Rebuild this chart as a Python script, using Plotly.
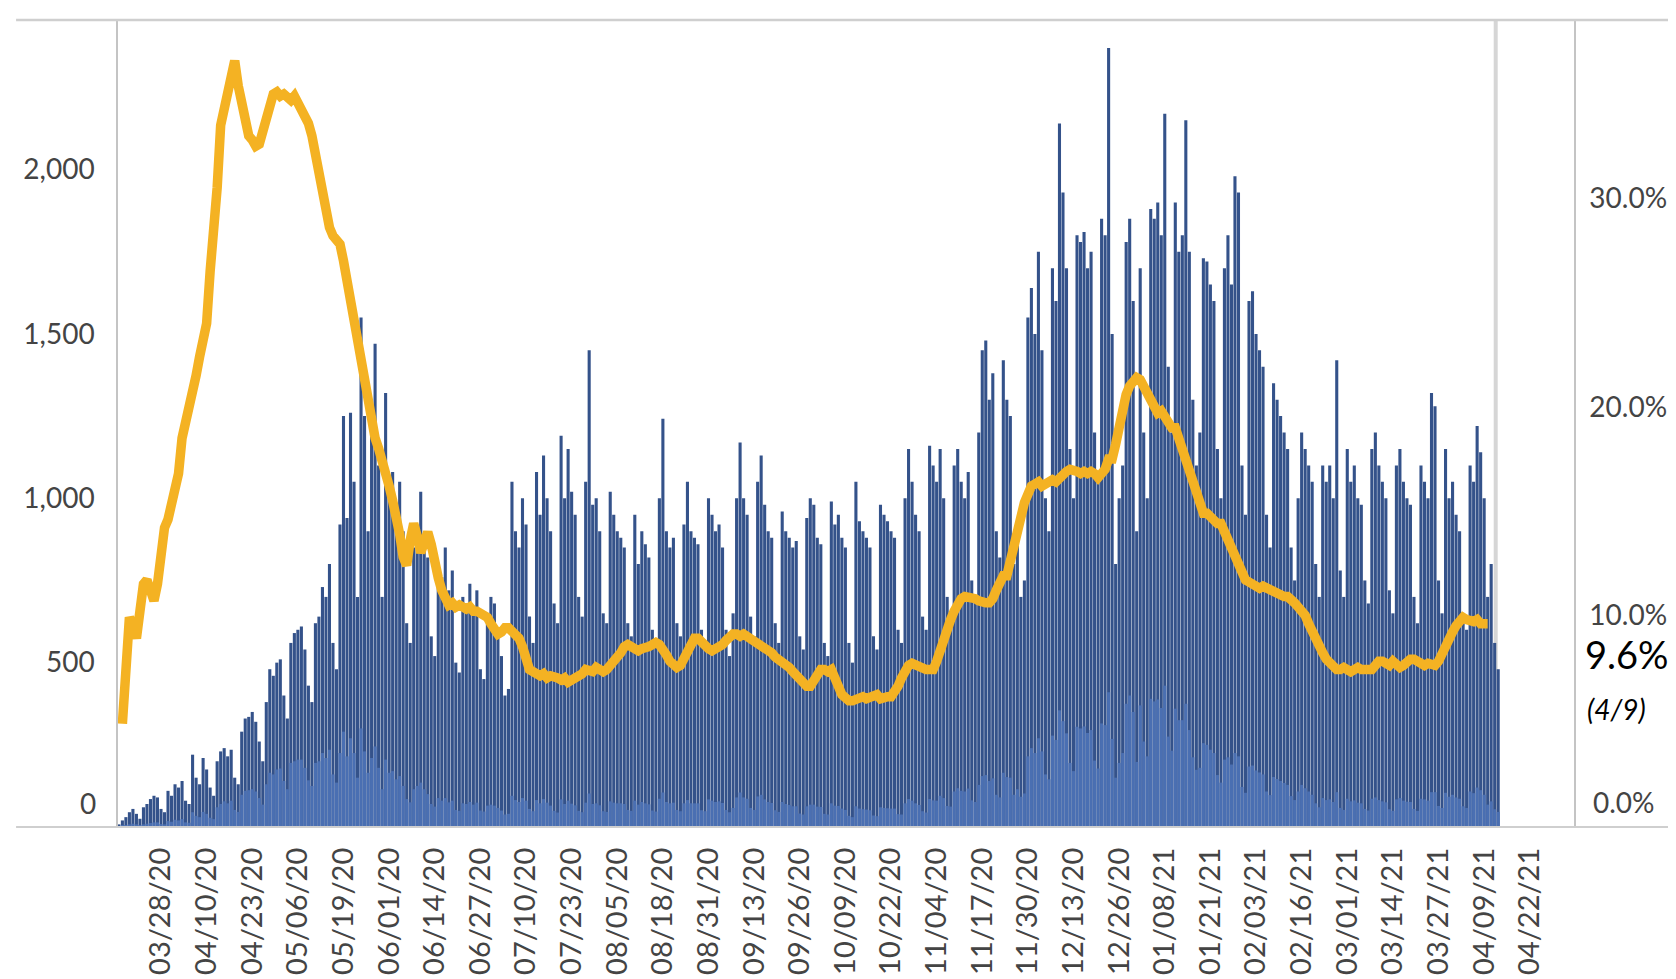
import plotly.graph_objects as go
import pandas as pd

# ---------------- data ----------------
bar_start = "2020-03-16"   # first daily bar (a Monday)
total_tests = [
    8, 20, 30, 45, 55, 40, 25,
    60, 70, 85, 95, 90, 55, 45,
    110, 95, 130, 120, 140, 80, 70,
    220, 150, 130, 210, 175, 120, 95,
    200, 230, 240, 215, 235, 150, 130,
    290, 330, 335, 350, 320, 260, 200,
    380, 480, 460, 500, 510, 400, 330,
    560, 590, 600, 610, 540, 430, 380,
    620, 640, 730, 700, 800, 560, 480,
    920, 1250, 940, 1260, 1050, 700, 1550,
    1250, 900, 1200, 1470, 1100, 700, 1320,
    1000, 1080, 950, 1050, 900, 620, 560,
    850, 900, 1020, 880, 820, 580, 520,
    800, 760, 850, 720, 780, 500, 470,
    700, 680, 740, 660, 720, 480, 450,
    650, 700, 680, 600, 520, 400, 420,
    1050, 900, 850, 1000, 920, 640, 560,
    1080, 950, 1130, 1000, 900, 680, 620,
    1190, 1000, 1150, 1020, 950, 700, 640,
    1050, 1450, 980, 1000, 900, 650, 620,
    1020, 950, 900, 880, 850, 620, 580,
    950, 800, 900, 860, 820, 600, 560,
    1000, 1242, 900, 850, 880, 620, 580,
    920, 1050, 900, 880, 860, 600, 560,
    1000, 950, 900, 920, 850, 600, 520,
    650, 1000, 1170, 1000, 950, 640, 580,
    1050, 1130, 980, 900, 880, 620, 560,
    960, 900, 880, 850, 870, 580, 540,
    940, 1000, 980, 880, 860, 560, 520,
    990, 920, 950, 880, 850, 560, 500,
    1050, 930, 900, 880, 850, 580, 540,
    980, 950, 930, 900, 880, 600, 560,
    1000, 1150, 1050, 950, 900, 640, 600,
    1160, 1100, 1050, 1150, 1000, 700, 650,
    1100, 1150, 1050, 1000, 1080, 750, 700,
    1200, 1450, 1480, 1300, 1380, 900, 820,
    1420, 1300, 1250, 800, 900, 700, 750,
    1550, 1640, 1500, 1750, 1450, 1000, 900,
    1700, 1600, 2140, 1930, 1700, 1150, 1000,
    1800, 1780, 1810, 1700, 1750, 1200, 1050,
    1850, 1800, 2370, 1500, 800, 1000, 1100,
    1780, 1850, 1600, 900, 1700, 1200, 1000,
    1880, 1850, 1900, 1800, 2170, 1400, 1200,
    1900, 1750, 1800, 2150, 1750, 1300, 1100,
    1200, 1730, 1720, 1650, 1600, 1150, 1000,
    1700, 1800, 1650, 1980, 1930, 1100, 950,
    1600, 1630, 1500, 1450, 1400, 950, 850,
    1350, 1300, 1250, 1200, 1150, 850, 750,
    1000, 1200, 1150, 1100, 1050, 800, 700,
    1100, 1050, 1100, 1000, 1420, 780, 700,
    1150, 1050, 1100, 1000, 980, 750, 680,
    1150, 1200, 1100, 1050, 1000, 720, 650,
    1100, 1150, 1050, 1000, 980, 700, 620,
    1100, 1050, 1000, 1320, 1280, 750, 650,
    1150, 1000, 1050, 950, 900, 650, 600,
    1100, 1050, 1220, 1140, 1000, 700, 800,
    560, 480,
]
positive_tests = [
    1, 4, 6, 8, 10, 8, 5,
    8, 10, 12, 14, 14, 9, 8,
    18, 16, 22, 20, 24, 14, 13,
    45, 34, 30, 46, 40, 28, 24,
    60, 70, 78, 72, 80, 52, 46,
    98, 110, 112, 115, 108, 88, 68,
    130, 165, 160, 175, 178, 140, 115,
    195, 200, 205, 205, 180, 142, 125,
    195, 200, 225, 210, 235, 160, 135,
    225, 290, 215, 270, 225, 150, 300,
    230, 165, 210, 245, 180, 115, 205,
    165, 170, 145, 155, 125, 85, 75,
    115, 125, 135, 115, 100, 70, 62,
    88, 80, 88, 75, 80, 52, 49,
    72, 70, 76, 68, 74, 50, 47,
    65, 68, 65, 58, 50, 38, 40,
    95, 82, 76, 88, 80, 55, 48,
    82, 72, 85, 74, 65, 49, 44,
    84, 70, 80, 71, 66, 49, 45,
    74, 102, 70, 72, 66, 48, 46,
    78, 74, 72, 72, 70, 52, 49,
    80, 68, 76, 72, 69, 50, 47,
    86, 105, 76, 72, 74, 52, 48,
    72, 82, 72, 72, 72, 51, 48,
    84, 80, 76, 78, 73, 52, 45,
    58, 90, 105, 90, 86, 58, 52,
    93, 98, 84, 76, 73, 51, 46,
    76, 70, 67, 63, 63, 41, 38,
    63, 68, 68, 62, 61, 40, 38,
    72, 65, 64, 56, 52, 34, 30,
    63, 56, 54, 53, 51, 35, 33,
    60, 58, 57, 56, 56, 39, 38,
    72, 85, 80, 72, 67, 48, 44,
    85, 81, 80, 95, 88, 64, 62,
    108, 118, 110, 108, 117, 81, 76,
    128, 155, 158, 140, 148, 98, 90,
    165, 152, 150, 98, 115, 92, 102,
    215, 240, 225, 270, 230, 160, 145,
    278, 265, 355, 322, 285, 195, 170,
    305, 300, 306, 286, 295, 202, 178,
    315, 310, 410, 268, 150, 195, 225,
    375, 400, 350, 198, 370, 260, 215,
    390, 382, 388, 362, 430, 275, 232,
    360, 325, 325, 375, 295, 212, 174,
    180, 255, 250, 235, 225, 158, 135,
    205, 212, 190, 225, 215, 122, 104,
    184, 187, 172, 166, 160, 108, 97,
    152, 146, 140, 134, 128, 94, 82,
    108, 128, 118, 108, 98, 72, 60,
    88, 82, 84, 76, 106, 58, 52,
    86, 78, 81, 74, 72, 55, 50,
    86, 90, 82, 78, 75, 54, 49,
    84, 88, 80, 77, 76, 55, 49,
    86, 84, 80, 106, 106, 64, 58,
    104, 92, 98, 90, 86, 63, 58,
    108, 103, 120, 112, 98, 68, 78,
    54, 46,
]
rate_start = "2020-03-17"   # first day of the positivity line
positivity_rate = [
    4.8, 7.5, 9.9, 9.5, 8.9, 10.2, 11.5, 11.7, 11.0, 10.7,
    11.5, 12.8, 14.2, 14.6, 15.2, 16.0, 16.8, 18.5, 19.2, 19.8,
    20.6, 21.5, 22.4, 23.2, 24.0, 26.5, 28.0, 30.5, 33.5, 34.2,
    35.0, 35.8, 36.6, 35.4, 34.4, 33.5, 33.0, 32.8, 32.5, 32.6,
    33.2, 33.6, 34.4, 35.0, 35.1, 34.9, 35.0, 34.8, 34.7, 34.9,
    34.6, 34.4, 34.0, 33.6, 33.0, 32.0, 31.0, 30.2, 29.3, 28.6,
    28.2, 28.0, 27.8, 27.0, 26.0, 25.2, 24.3, 23.4, 22.5, 21.3,
    20.2, 19.0, 18.5, 18.0, 17.5, 16.8, 16.2, 15.5, 14.8, 13.9,
    12.8, 12.4, 13.6, 14.4, 13.8, 13.0, 13.5, 14.0, 13.4, 12.4,
    11.8, 11.2, 10.7, 10.5, 10.6, 10.4, 10.5, 10.4, 10.3, 10.4,
    10.2, 10.2, 10.1, 10.0, 9.9, 9.6, 9.3, 9.1, 9.2, 9.4,
    9.4, 9.2, 9.0, 8.9, 8.5, 8.0, 7.4, 7.3, 7.2, 7.1,
    7.2, 7.0, 7.1, 7.1, 7.0, 6.9, 7.0, 6.8, 6.9, 6.9,
    7.1, 7.2, 7.4, 7.4, 7.3, 7.5, 7.4, 7.3, 7.4, 7.6,
    7.8, 7.9, 8.2, 8.5, 8.6, 8.5, 8.4, 8.3, 8.4, 8.4,
    8.5, 8.6, 8.7, 8.6, 8.4, 8.1, 7.8, 7.6, 7.5, 7.6,
    7.9, 8.3, 8.6, 8.9, 8.9, 8.7, 8.5, 8.4, 8.3, 8.4,
    8.4, 8.6, 8.8, 9.0, 9.1, 9.1, 9.0, 9.1, 9.0, 8.9,
    8.8, 8.7, 8.6, 8.5, 8.4, 8.2, 8.0, 7.9, 7.8, 7.6,
    7.5, 7.3, 7.1, 6.9, 6.7, 6.6, 6.6, 6.9, 7.2, 7.4,
    7.4, 7.3, 7.4, 7.1, 6.6, 6.2, 6.0, 5.9, 5.9, 6.0,
    6.0, 6.1, 6.0, 6.1, 6.1, 6.2, 6.0, 6.1, 6.1, 6.1,
    6.3, 6.6, 7.0, 7.4, 7.6, 7.7, 7.6, 7.5, 7.4, 7.4,
    7.4, 7.4, 7.8, 8.4, 9.0, 9.4, 9.8, 10.2, 10.6, 10.8,
    10.9, 10.9, 10.9, 10.8, 10.7, 10.6, 10.6, 10.6, 10.8, 11.2,
    11.6, 11.9, 11.9, 12.6, 13.4, 14.2, 14.9, 15.4, 15.8, 16.2,
    16.3, 16.4, 16.2, 16.3, 16.5, 16.5, 16.4, 16.6, 16.8, 16.9,
    17.0, 17.0, 16.9, 16.8, 16.9, 16.8, 16.9, 16.8, 16.6, 16.8,
    17.0, 17.5, 17.5, 18.2, 19.2, 20.0, 20.6, 21.0, 21.3, 21.4,
    21.3, 21.0, 20.7, 20.4, 20.0, 19.7, 19.8, 19.5, 19.3, 19.0,
    19.0, 18.5, 18.0, 17.4, 17.0, 16.4, 15.8, 15.3, 14.9, 14.9,
    14.7, 14.6, 14.4, 14.4, 14.0, 13.8, 13.4, 13.0, 12.5, 12.0,
    11.7, 11.6, 11.5, 11.4, 11.3, 11.4, 11.3, 11.2, 11.2, 11.1,
    11.0, 10.9, 10.9, 10.8, 10.6, 10.4, 10.2, 10.0, 9.6, 9.2,
    8.8, 8.5, 8.2, 7.9, 7.7, 7.5, 7.4, 7.4, 7.5, 7.4,
    7.3, 7.4, 7.5, 7.4, 7.4, 7.3, 7.4, 7.6, 7.8, 7.8,
    7.7, 7.6, 7.8, 7.6, 7.5, 7.6, 7.8, 7.9, 7.9, 7.8,
    7.7, 7.6, 7.7, 7.6, 7.6, 7.8, 8.2, 8.6, 8.9, 9.2,
    9.5, 9.8, 9.9, 9.8, 9.7, 9.7, 9.8, 9.6, 9.6, 9.6,
]

left_tick_values = [500, 1000, 1500, 2000]
left_tick_text = ["500", "1,000", "1,500", "2,000"]
right_tick_values = [10, 20, 30]
right_tick_text = ["10.0%", "20.0%", "30.0%"]
x_tick_first = "2020-03-28"
x_tick_step_days = 13
x_range = ["2020-03-15 18:00", "2021-05-04 14:24"]
left_range = [0, 2455]
right_range = [-0.15, 38.55]
today_marker = "2021-04-12 07:00"
latest_value_text = "9.6%"
latest_date_text = "(4/9)"

# ---------------- figure ----------------
bar_dates = pd.date_range(bar_start, periods=len(total_tests), freq="D")
rate_dates = pd.date_range(rate_start, periods=len(positivity_rate), freq="D")

FONT_FAMILY = "Lato, Liberation Sans, sans-serif"
TICK_FONT = dict(family=FONT_FAMILY, size=28, color="#444444")
AXIS_GRAY = "#c4c4c4"

fig = go.Figure()
fig.add_trace(go.Bar(x=bar_dates, y=total_tests, marker=dict(color="#34528a", line=dict(width=0)),
                     name="Tests", yaxis="y"))
fig.add_trace(go.Bar(x=bar_dates, y=positive_tests, marker=dict(color="#4a6fb2", line=dict(width=0)),
                     name="Positives", yaxis="y"))
fig.add_trace(go.Scatter(x=rate_dates, y=positivity_rate, yaxis="y2", mode="lines",
                         line=dict(color="#F4B223", width=9.5), name="Positivity"))

fig.update_layout(
    width=1676, height=979,
    margin=dict(l=110, r=110, t=12, b=147),
    paper_bgcolor="white", plot_bgcolor="white",
    barmode="overlay", bargap=0.12,
    showlegend=False,
    xaxis=dict(
        type="date", range=x_range,
        tickmode="linear", tick0=x_tick_first, dtick=x_tick_step_days * 86400000,
        tickformat="%m/%d/%y", tickangle=-90,
        tickfont=dict(family=FONT_FAMILY, size=29, color="#444444"),
        showgrid=False, showline=False, zeroline=False, ticks="",
        ticklabelstandoff=14,
    ),
    yaxis=dict(
        range=left_range, tickmode="array", tickvals=left_tick_values, ticktext=left_tick_text,
        tickfont=TICK_FONT, showgrid=False, zeroline=False,
        showline=True, linecolor=AXIS_GRAY, linewidth=1.5, ticks="",
        ticklabelstandoff=16,
    ),
    yaxis2=dict(
        overlaying="y", side="right", range=right_range,
        tickmode="array", tickvals=right_tick_values, ticktext=right_tick_text,
        tickfont=TICK_FONT, showgrid=False, zeroline=False,
        showline=True, linecolor=AXIS_GRAY, linewidth=1.5, ticks="",
        ticklabelstandoff=8,
    ),
    shapes=[
        dict(type="line", xref="paper", yref="paper", x0=-0.07, x1=1.0694, y0=1, y1=1,
             line=dict(color="#cfcfcf", width=2.5)),
        dict(type="line", xref="paper", yref="paper", x0=-0.07, x1=1.0694, y0=0, y1=0,
             line=dict(color="#cfcfcf", width=2)),
        dict(type="line", xref="x", yref="paper", x0=today_marker, x1=today_marker, y0=0, y1=1,
             line=dict(color="#d6d6d6", width=4), layer="below"),
    ],
    annotations=[
        dict(text="0", xref="paper", yref="paper", x=-0.0137, y=0, xanchor="right", yanchor="middle",
             yshift=24, showarrow=False, font=TICK_FONT),
        dict(text="0.0%", xref="paper", yref="paper", x=1.0117, y=0, xanchor="left", yanchor="middle",
             yshift=25, showarrow=False, font=TICK_FONT),
        dict(text=latest_value_text, xref="paper", yref="paper", x=1.0062, y=0.2146,
             xanchor="left", yanchor="middle", showarrow=False,
             font=dict(family=FONT_FAMILY, size=38, color="#000000")),
        dict(text="<i>" + latest_date_text + "</i>", xref="paper", yref="paper", x=1.0076, y=0.1463,
             xanchor="left", yanchor="middle", showarrow=False,
             font=dict(family=FONT_FAMILY, size=28, color="#000000")),
    ],
)

fig.write_html("out.html")
